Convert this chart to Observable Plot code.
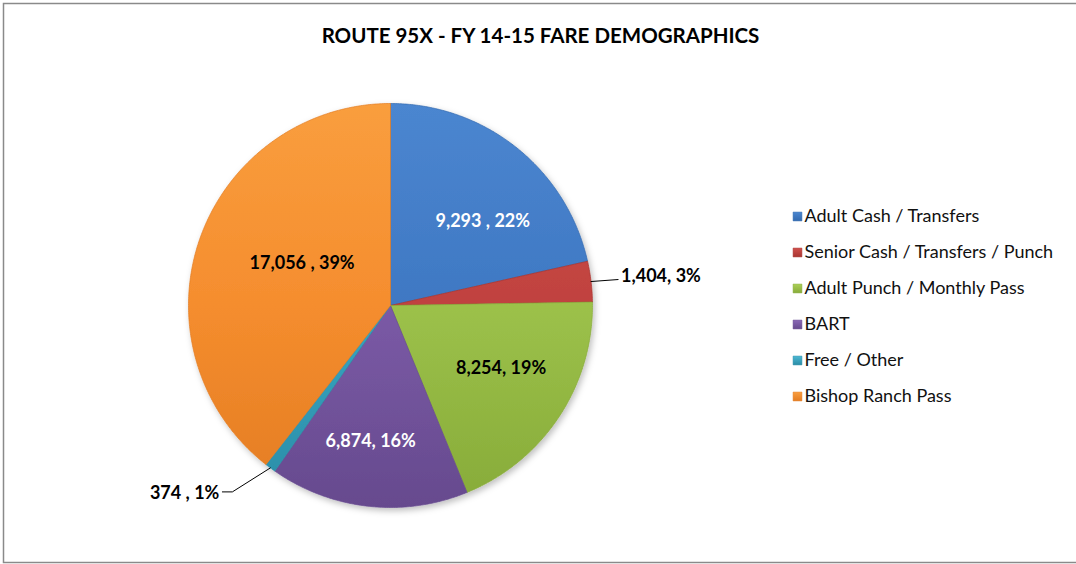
<!DOCTYPE html>
<html>
<head>
<meta charset="utf-8">
<script src="https://cdn.jsdelivr.net/npm/d3@7"></script>
<script src="https://cdn.jsdelivr.net/npm/@observablehq/plot@0.6"></script>
<style>
  html, body { margin: 0; padding: 0; background: #fff; }
  #chart svg { display: block; }
</style>
</head>
<body>
<div id="chart"></div>
<script>
// ---- data ----
const title = "ROUTE 95X - FY 14-15 FARE DEMOGRAPHICS";
const categories = ["Adult Cash / Transfers", "Senior Cash / Transfers / Punch", "Adult Punch / Monthly Pass", "BART", "Free / Other", "Bishop Ranch Pass"];
const values = [9293, 1404, 8254, 6874, 374, 17056];
const valueLabels = ["9,293 , 22%", "1,404, 3%", "8,254, 19%", "6,874, 16%", "374 , 1%", "17,056 , 39%"];
const baseColors = ["#3f78c3", "#c0423f", "#9cc14a", "#7b5aa6", "#38a6c2", "#f58d2e"];
const lightColors = ["#4b86d0", "#d0504c", "#abcf57", "#8a68b6", "#4cb8d3", "#f99e3e"];
const darkColors = ["#336aaf", "#a83531", "#87ab39", "#664a8e", "#2a8ca6", "#e37c22"];

// ---- layout ----
const W = 1076, H = 564;
const cx = 390, cy = 305, R = 202;
const labelK = 0.62;
const insideOffsets = {0: [14, 14], 2: [6, -6], 3: [-6, 11], 5: [30, -1]};
const insideFill = {0: "white", 2: "black", 3: "white", 5: "black"};

const rows = categories.map((c, i) => ({i, category: c, value: values[i], label: valueLabels[i]}));
const arcs = d3.pie().sort(null).value(d => d.value)(rows);
const pt = (a, r) => [cx + r * Math.sin(a), cy - r * Math.cos(a)];

// slice polygons
const slicePts = [];
arcs.forEach(a => {
  const id = a.data.i;
  slicePts.push({id, x: cx, y: cy});
  const n = Math.max(2, Math.ceil((a.endAngle - a.startAngle) / (Math.PI / 360)));
  for (let k = 0; k <= n; k++) {
    const t = a.startAngle + (a.endAngle - a.startAngle) * k / n;
    const [x, y] = pt(t, R);
    slicePts.push({id, x, y});
  }
  slicePts.push({id, x: cx, y: cy});
});

// inside labels
const inside = arcs.filter(a => insideOffsets[a.data.i]).map(a => {
  const m = (a.startAngle + a.endAngle) / 2;
  const [x, y] = pt(m, R * labelK);
  const o = insideOffsets[a.data.i];
  return {x: x + o[0], y: y + o[1], text: a.data.label, fill: insideFill[a.data.i]};
});

// outside labels with leader lines
const leaders = [];
const outsideRight = [];
const outsideLeft = [];
{
  const a = arcs[1]; const m = (a.startAngle + a.endAngle) / 2;
  const [x0, y0] = pt(m, R);
  leaders.push({g: 1, x: x0, y: y0}, {g: 1, x: x0 + 27, y: y0 - 2});
  outsideRight.push({x: x0 + 30, y: y0 - 5, text: a.data.label});
}
{
  const a = arcs[4]; const m = (a.startAngle + a.endAngle) / 2;
  const [x0, y0] = pt(m, R);
  leaders.push({g: 4, x: x0, y: y0}, {g: 4, x: x0 - 38, y: y0 + 24}, {g: 4, x: x0 - 48, y: y0 + 24});
  outsideLeft.push({x: x0 - 51, y: y0 + 25, text: a.data.label});
}

// legend
const legX = 797, legY0 = 216, legDy = 36;
const legend = categories.map((c, i) => ({i, x: legX, y: legY0 + i * legDy, text: c}));

const font = "Lato, 'Open Sans', sans-serif";

const plot = Plot.plot({
  width: W, height: H,
  margin: 0,
  x: {domain: [0, W], range: [0, W], axis: null},
  y: {domain: [0, H], range: [0, H], axis: null},
  color: {type: "identity"},
  style: {fontFamily: font, background: "white"},
  marks: [
    Plot.frame({stroke: "#8a8a8a", strokeWidth: 1.5, insetLeft: 3, insetTop: 3, insetRight: -3, insetBottom: 2}),
    Plot.text([title], {x: () => W / 2 + 2, y: () => 36, text: d => d, fontSize: 20.5, fontWeight: "bold", fill: "black"}),
    Plot.line(slicePts, {x: "x", y: "y", z: "id", fill: d => `url(#g${d.id})`, stroke: d => darkColors[d.id], strokeWidth: 1, strokeOpacity: 0.7, curve: "linear", className: "slice"}),
    Plot.line(leaders, {x: "x", y: "y", z: "g", stroke: "black", strokeWidth: 1}),
    Plot.text(inside, {x: "x", y: "y", text: "text", fill: "fill", fontSize: 18, fontWeight: "bold"}),
    Plot.text(outsideRight, {x: "x", y: "y", text: "text", textAnchor: "start", fill: "black", fontSize: 18, fontWeight: "bold"}),
    Plot.text(outsideLeft, {x: "x", y: "y", text: "text", textAnchor: "end", fill: "black", fontSize: 18, fontWeight: "bold"}),
    Plot.dot(legend, {x: "x", y: "y", symbol: "square", r: 5, fill: d => `url(#l${d.i})`, stroke: d => darkColors[d.i], strokeWidth: 0.5}),
    Plot.text(legend, {x: d => d.x + 7, y: "y", text: "text", textAnchor: "start", fill: "#111", fontSize: 18})
  ]
});

// gradients
const svg = d3.select(plot);
const defs = svg.insert("defs", ":first-child");
baseColors.forEach((c, i) => {
  const g = defs.append("linearGradient").attr("id", `g${i}`)
    .attr("gradientUnits", "userSpaceOnUse")
    .attr("x1", cx).attr("y1", cy - R).attr("x2", cx).attr("y2", cy + R);
  g.append("stop").attr("offset", "0%").attr("stop-color", lightColors[i]);
  g.append("stop").attr("offset", "50%").attr("stop-color", baseColors[i]);
  g.append("stop").attr("offset", "100%").attr("stop-color", darkColors[i]);
  const l = defs.append("linearGradient").attr("id", `l${i}`)
    .attr("x1", 0).attr("y1", 0).attr("x2", 0).attr("y2", 1);
  l.append("stop").attr("offset", "0%").attr("stop-color", lightColors[i]);
  l.append("stop").attr("offset", "100%").attr("stop-color", darkColors[i]);
});
const f = defs.append("filter").attr("id", "shadow").attr("x", "-10%").attr("y", "-10%").attr("width", "120%").attr("height", "120%");
f.append("feDropShadow").attr("dx", 2).attr("dy", 3).attr("stdDeviation", 3).attr("flood-color", "#000").attr("flood-opacity", 0.25);
svg.selectAll(".slice").attr("filter", "url(#shadow)");

document.getElementById("chart").appendChild(plot);
</script>
</body>
</html>
